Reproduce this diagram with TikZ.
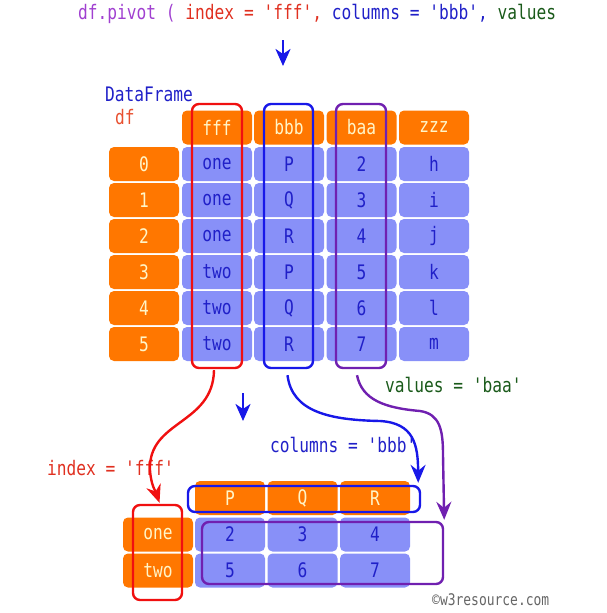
\documentclass[tikz,border=0pt]{standalone}
\usepackage{fontspec}
\setmonofont{DejaVu Sans Mono}[FakeStretch=0.81]
\usetikzlibrary{arrows.meta,calc}
\definecolor{orng}{HTML}{FF7700}
\definecolor{cellblue}{HTML}{8890F8}
\definecolor{txtblue}{HTML}{2020C8}
\definecolor{cream}{HTML}{FFF5C8}
\definecolor{boxred}{HTML}{F01010}
\definecolor{boxblue}{HTML}{1818E8}
\definecolor{boxpurp}{HTML}{7020B0}
\definecolor{codepurp}{HTML}{A040D0}
\definecolor{codered}{HTML}{E03020}
\definecolor{codegreen}{HTML}{1A5A1A}
\definecolor{dfred}{HTML}{E85030}
\tikzset{
  x=1pt, y=-1pt,
  every node/.style={font=\ttfamily\fontsize{20}{22}\selectfont, inner sep=0pt},
  hcell/.style={fill=orng, rounded corners=5pt, minimum width=70pt, minimum height=34pt, text=cream},
  dcell/.style={fill=cellblue, rounded corners=5pt, minimum width=70pt, minimum height=34pt, text=txtblue},
  selbox/.style={draw, line width=2.4pt, rounded corners=7pt},
  conn/.style={line width=2.4pt, -{Stealth[length=18pt,width=15pt,inset=6pt]}},
  vert/.style={boxblue, line width=2.6pt, -{Stealth[length=17pt,width=15pt,inset=5pt]}},
  lbl/.style={anchor=west},
}
\begin{document}
\begin{tikzpicture}
\useasboundingbox (0,0) rectangle (607,613);
% title
\node[lbl] (title) at (78,14) {{\color{codepurp}df.pivot (} {\color{codered}index = 'fff',} {\color{txtblue}columns = 'bbb',} {\color{codegreen}values}};
\coordinate (a1s) at (283,40);
\coordinate (a1e) at (283,66);
\draw[vert] (a1s) -- (a1e);
\node[lbl, text=txtblue] (dfname) at (105,94) {DataFrame};
\node[lbl, text=dfred] (dflabel) at (115,117) {df};
% top table header
\node[hcell] (hf) at (217,127.5) {fff};
\node[hcell] (hb) at (289,127.5) {bbb};
\node[hcell] (ha) at (361.5,127.5) {baa};
\node[hcell] (hz) at (434,127.5) {zzz};
% rows
\foreach \i/\f/\b/\a/\z in {0/one/P/2/h, 1/one/Q/3/i, 2/one/R/4/j, 3/two/P/5/k, 4/two/Q/6/l, 5/two/R/7/m}{
  \pgfmathsetmacro{\yy}{164+36*\i}
  \node[hcell] (i\i) at (144,\yy) {\i};
  \node[dcell] (f\i) at (217,\yy) {\f};
  \node[dcell] (b\i) at (289,\yy) {\b};
  \node[dcell] (a\i) at (361.5,\yy) {\a};
  \node[dcell] (z\i) at (434,\yy) {\z};
}
% selection boxes top
\node[selbox, boxred, minimum width=50pt, minimum height=264pt] (rtop) at (217,236) {};
\node[selbox, boxblue, minimum width=49pt, minimum height=264pt] (btop) at (288.5,236) {};
\node[selbox, boxpurp, minimum width=50pt, minimum height=264pt] (ptop) at (361,236) {};
% small arrow
\coordinate (a2s) at (243,393);
\coordinate (a2e) at (243,421);
\draw[vert] (a2s) -- (a2e);
% labels
\node[lbl, text=codegreen] (vlab) at (385,385) {values = 'baa'};
\node[lbl, text=txtblue] (clab) at (270,445) {columns = 'bbb'};
\node[lbl, text=codered] (ilab) at (47,468) {index = 'fff'};
% bottom table
\node[hcell] (hp) at (230,498) {P};
\node[hcell] (hq) at (302.5,498) {Q};
\node[hcell] (hr) at (375,498) {R};
\node[hcell] (ione) at (158,534.5) {one};
\node[hcell] (itwo) at (158,570.5) {two};
\node[dcell] (v1p) at (230,534.5) {2};
\node[dcell] (v1q) at (302.5,534.5) {3};
\node[dcell] (v1r) at (375,534.5) {4};
\node[dcell] (v2p) at (230,570.5) {5};
\node[dcell] (v2q) at (302.5,570.5) {6};
\node[dcell] (v2r) at (375,570.5) {7};
% bottom selection boxes
\node[selbox, boxred, minimum width=49pt, minimum height=95pt] (rbot) at (157.5,552.5) {};
\node[selbox, boxblue, minimum width=232pt, minimum height=26pt] (bbot) at (304,499) {};
\node[selbox, boxpurp, minimum width=241pt, minimum height=62pt] (pbot) at (322.5,553) {};
% connectors
\draw[conn, boxred] ($(rtop.south)+(-3,1)$) .. controls (213,425) and (148,420) .. (150,470) .. controls (151,485) and (155,490) .. ($(rbot.north)+(2,-1)$);
\draw[conn, boxblue] ($(btop.south)+(-1,6)$) .. controls (292,412) and (330,420) .. (380,421) .. controls (414,423) and (418,445) .. ($(bbot.north east)+(-3,-2)$);
\draw[conn, boxpurp] ($(ptop.south)+(-4,6)$) .. controls (362,400) and (385,408) .. (420,411) .. controls (440,414) and (443,430) .. (443,455) -- ($(pbot.north east)+(0,-1)$);
% copyright
\node[lbl, text=gray!80!black, font=\ttfamily\fontsize{16}{18}\selectfont] (copy) at (432,600) {©w3resource.com};
\end{tikzpicture}
\end{document}
